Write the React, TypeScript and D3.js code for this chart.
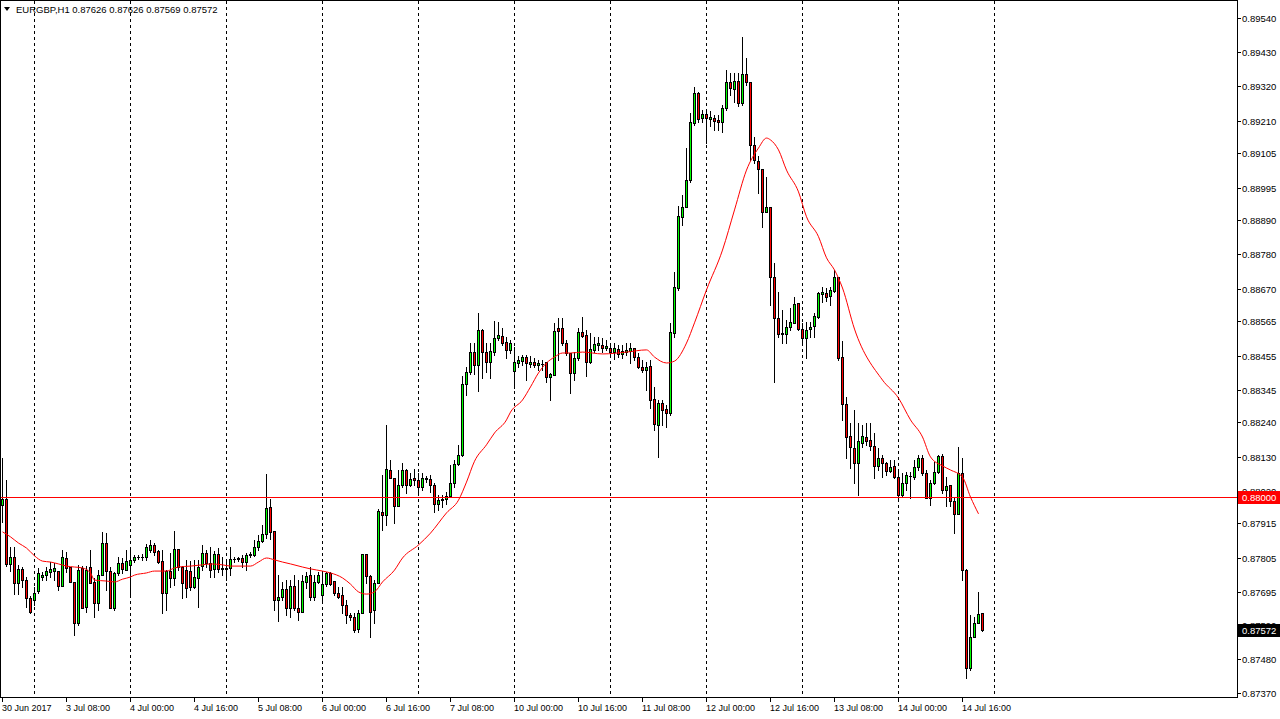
import React from 'react';
import * as d3 from 'd3';

// ---------- DATA (prices in 1e-5 points) ----------
const SYMBOL = 'EURGBP,H1';
const opens = [
87974,87994,87785,87807,87724,87769,87733,87675,87669,87698,87743,87749,87759,87762,87762,87714,87804,87775,87727,87595,
87772,87646,87775,87727,87659,87749,87852,87762,87643,87756,87788,87765,87782,87798,87807,87807,87807,87830,87846,87826,
87794,87691,87762,87740,87833,87775,87765,87762,87711,87740,87778,87820,87788,87769,87817,87772,87769,87772,87801,87801,
87804,87791,87814,87814,87839,87858,87881,87968,87891,87669,87678,87704,87643,87714,87643,87630,87727,87749,87678,87727,
87685,87720,87756,87730,87691,87685,87653,87621,87614,87576,87627,87817,87746,87637,87724,87952,87942,88087,88061,87971,
88039,88087,88039,88061,88055,88032,88061,88058,88039,87978,87990,87994,88003,88045,88106,88135,88363,88402,88466,88424,
88537,88466,88434,88466,88511,88518,88498,88473,88405,88431,88437,88450,88428,88434,88424,88428,88434,88386,88392,88544,
88544,88495,88463,88399,88447,88530,88521,88434,88473,88489,88489,88479,88479,88466,88476,88460,88466,88469,88479,88450,
88418,88408,88421,88315,88232,88302,88283,88270,88527,88672,88900,88932,89019,89203,89299,89219,89231,89215,89219,89212,
89206,89251,89334,89312,89337,89267,89360,89334,89132,89080,89055,88916,88932,88707,88576,88527,88524,88547,88560,88624,
88540,88511,88540,88550,88579,88653,88656,88646,88662,88707,88450,88299,88196,88158,88109,88174,88193,88183,88164,88100,
88125,88109,88084,88100,88064,88007,88045,88068,88064,88096,88125,88077,87997,88045,88080,88132,88023,88039,87987,87946,
88077,87765,87450,87550,87595,87626];
const highs = [
88126,88055,87839,87839,87782,87775,87743,87682,87711,87772,87759,87775,87791,87788,87762,87830,87823,87775,87727,87782,
87778,87778,87830,87740,87765,87888,87884,87775,87759,87807,87804,87830,87830,87814,87814,87817,87849,87862,87852,87830,
87830,87765,87820,87891,87833,87778,87798,87794,87798,87798,87846,87830,87839,87826,87836,87807,87798,87839,87807,87807,
87814,87820,87823,87862,87878,87910,88074,87994,87891,87749,87727,87733,87733,87749,87733,87749,87759,87775,87749,87759,
87756,87759,87759,87730,87711,87711,87669,87627,87627,87637,87817,87817,87749,87733,87962,88071,88231,88119,88061,88087,
88109,88090,88077,88090,88077,88077,88068,88071,88045,88007,88007,88016,88103,88119,88167,88389,88418,88495,88495,88592,
88540,88495,88495,88566,88563,88543,88514,88505,88482,88453,88457,88457,88453,88447,88441,88441,88434,88399,88560,88576,
88576,88505,88463,88466,88543,88579,88537,88527,88514,88514,88511,88505,88495,88495,88489,88489,88495,88495,88479,88463,
88441,88434,88441,88354,88312,88312,88296,88560,88724,88936,88971,89122,89235,89318,89302,89244,89244,89241,89228,89228,
89260,89373,89363,89363,89363,89479,89411,89334,89157,89096,89055,89029,88932,88752,88659,88601,88569,88608,88643,88624,
88560,88563,88563,88592,88659,88675,88672,88675,88730,88707,88502,88322,88238,88280,88238,88232,88238,88238,88206,88158,
88135,88112,88119,88119,88087,88077,88080,88080,88119,88135,88135,88087,88055,88112,88135,88138,88064,88039,88000,88161,
88126,87769,87621,87614,87695,87626];
const lows = [
87920,87778,87762,87688,87688,87711,87646,87627,87653,87691,87733,87733,87743,87733,87701,87714,87759,87727,87556,87589,
87643,87630,87724,87614,87637,87749,87701,87643,87637,87749,87756,87765,87678,87791,87801,87798,87798,87823,87814,87788,
87627,87637,87711,87717,87765,87675,87678,87701,87707,87646,87765,87775,87743,87743,87759,87749,87733,87749,87791,87794,
87775,87765,87807,87811,87830,87855,87868,87865,87637,87601,87669,87621,87614,87637,87605,87630,87707,87669,87669,87724,
87659,87714,87717,87685,87675,87627,87595,87605,87566,87566,87627,87724,87550,87595,87724,87894,87910,88061,87917,87971,
88032,88013,88036,88039,88013,88023,88048,88016,87952,87958,87968,87978,88000,88032,88103,88132,88328,88395,88395,88341,
88383,88402,88383,88457,88505,88489,88447,88463,88351,88418,88424,88376,88418,88418,88408,88408,88370,88312,88392,88441,
88489,88457,88335,88376,88441,88514,88389,88431,88466,88473,88466,88473,88457,88444,88450,88447,88457,88431,88441,88415,
88402,88344,88286,88216,88128,88232,88225,88264,88514,88666,88875,88932,89013,89196,89206,89206,89138,89193,89180,89180,
89174,89244,89292,89270,89257,89260,89325,89084,89074,88977,88868,88916,88617,88370,88514,88495,88495,88537,88560,88537,
88495,88447,88514,88514,88576,88627,88630,88617,88659,88441,88248,88126,88094,88045,88007,88161,88167,88151,88061,88087,
88064,88071,88080,88061,87997,88000,88023,87997,88058,88087,88071,87997,87974,88042,88077,88013,87971,87971,87884,87946,
87733,87418,87444,87550,87595,87569];
const closes = [
87994,87785,87807,87724,87769,87733,87675,87630,87691,87756,87749,87762,87769,87772,87714,87807,87772,87727,87595,87765,
87643,87765,87724,87659,87749,87852,87762,87643,87756,87788,87769,87794,87798,87807,87807,87807,87839,87846,87823,87791,
87691,87762,87740,87833,87775,87724,87707,87711,87743,87775,87820,87788,87765,87817,87769,87769,87772,87801,87801,87804,
87791,87814,87817,87839,87858,87881,87965,87888,87669,87678,87704,87643,87714,87643,87630,87730,87746,87678,87727,87749,
87720,87756,87720,87691,87678,87653,87621,87614,87572,87627,87817,87746,87630,87724,87955,87942,88090,88061,87971,88039,
88087,88039,88058,88055,88032,88061,88058,88039,87978,87990,87994,88003,88045,88106,88135,88363,88402,88466,88424,88537,
88466,88434,88469,88511,88521,88495,88473,88495,88434,88441,88450,88431,88434,88424,88431,88428,88386,88395,88534,88534,
88495,88463,88399,88447,88530,88518,88434,88476,88492,88495,88479,88485,88466,88479,88460,88469,88473,88479,88450,88418,
88408,88418,88312,88235,88302,88280,88270,88531,88675,88903,88932,89019,89206,89299,89215,89231,89219,89222,89209,89206,
89251,89334,89315,89337,89267,89360,89334,89132,89084,89055,88916,88932,88707,88576,88524,88524,88547,88563,88621,88540,
88511,88537,88547,88582,88656,88659,88643,88666,88707,88447,88299,88193,88161,88109,88180,88196,88180,88164,88100,88125,
88109,88084,88096,88064,88007,88045,88071,88068,88096,88125,88077,87997,88045,88080,88132,88023,88035,87987,87946,88077,
87765,87450,87550,87595,87624,87572];

// Moving average: bar index -> value
const maIndex = [0,2,4,6,8,10,12,14,16,18,20,22,23,26,28,30,32,33,36,38,41,43,44,47,50,52,55,57,60,62,64,66,68,70,72,75,77,80,82,85,87,89,91,93,95,98,100,104,107,111,114,116,118,121,123,126,127,130,132,134,136,138,140,142,145,150,156,161,163,166,168,171,173,176,180,183,186,189,191,192,194,196,199,201,204,206,208,210,213,220,224,227,230,232,235,237,240,242,244];
const maValue = [87888,87872,87852,87836,87811,87794,87791,87785,87778,87775,87772,87756,87733,87730,87727,87736,87743,87749,87756,87762,87762,87772,87775,87778,87782,87785,87782,87778,87778,87778,87791,87804,87798,87791,87785,87775,87769,87762,87756,87740,87720,87695,87688,87695,87727,87765,87804,87846,87884,87949,87990,88048,88115,88168,88206,88248,88273,88312,88354,88399,88431,88450,88463,88463,88466,88460,88466,88473,88450,88431,88437,88495,88560,88666,88794,88923,89051,89122,89154,89148,89116,89051,88981,88901,88837,88769,88730,88672,88540,88376,88318,88248,88193,88129,88100,88087,88064,88000,87946];

const priceTicks = [89540,89430,89320,89210,89105,88995,88890,88780,88670,88565,88455,88345,88240,88130,88020,87915,87805,87695,87590,87480,87370];
const timeLabelIndex = [0,16,32,48,64,80,96,112,128,144,160,176,192,208,224,240];
const timeLabels = ['30 Jun 2017','3 Jul 08:00','4 Jul 00:00','4 Jul 16:00','5 Jul 08:00','6 Jul 00:00','6 Jul 16:00','7 Jul 08:00','10 Jul 00:00','10 Jul 16:00','11 Jul 08:00','12 Jul 00:00','12 Jul 16:00','13 Jul 08:00','14 Jul 00:00','14 Jul 16:00'];
const dayStartIndex = [8,32,56,80,104,128,152,176,200,224,248];
const levelLine = 88000;

const PT = 1e5;
const fmt = (v: number) => (v / PT).toFixed(5);

export default function App() {
  const n = closes.length;
  const plotRight = 1237;
  const plotBottom = 697;
  const x = d3.scaleLinear().domain([0, n - 1]).range([2, 2 + 4 * (n - 1)]);
  const y = d3.scaleLinear().domain([87370, 89540]).range([693, 18]);
  const ry = (v: number) => Math.round(y(v));
  const font = "'Liberation Sans', Arial, sans-serif";

  const maLine = d3.line<number>()
    .x((_, i) => x(maIndex[i]) + 0.5)
    .y((v) => y(v))
    .curve(d3.curveMonotoneX)(maValue) || '';

  const last = closes[n - 1];
  const lvY = ry(levelLine);
  const lastY = ry(last);

  return (
    <div style={{ position: 'absolute', left: 0, top: 0 }}>
      <svg width={1280} height={719} style={{ display: 'block', background: '#fff' }}>
        <rect x={0} y={0} width={1280} height={719} fill="#fff" />
        {/* grid */}
        {dayStartIndex.map((d) => (
          <line key={'g' + d} x1={x(d) + 0.5} x2={x(d) + 0.5} y1={1} y2={plotBottom}
            stroke="#000" strokeWidth={1} strokeDasharray="3,3" shapeRendering="crispEdges" />
        ))}
        {/* candles */}
        <g shapeRendering="crispEdges">
          {closes.map((c, i) => {
            const o = opens[i];
            const cx = Math.round(x(i));
            const yh = ry(highs[i]);
            const yl = ry(lows[i]);
            const top = ry(Math.max(o, c));
            const bot = ry(Math.min(o, c));
            const bull = c >= o;
            return (
              <g key={i}>
                <rect x={cx} y={yh} width={1} height={yl - yh + 1} fill="#000" />
                {bot - top < 2 ? (
                  <rect x={cx - 1} y={top} width={3} height={bot - top + 1} fill="#000" />
                ) : (
                  <rect x={cx - 0.5} y={top + 0.5} width={2} height={bot - top}
                    fill={bull ? '#00ff00' : '#ff0000'} stroke="#000" strokeWidth={1} />
                )}
              </g>
            );
          })}
        </g>
        {/* level line */}
        <rect x={0} y={lvY} width={plotRight} height={1} fill="#ff0000" shapeRendering="crispEdges" />
        {/* moving average */}
        <path d={maLine} fill="none" stroke="#ff0000" strokeWidth={1} />
        {/* frame */}
        <g shapeRendering="crispEdges" stroke="#000" strokeWidth={1}>
          <line x1={0.5} x2={0.5} y1={0} y2={plotBottom + 1} />
          <line x1={plotRight + 0.5} x2={plotRight + 0.5} y1={0} y2={plotBottom + 1} />
          <line x1={0} x2={plotRight + 1} y1={0.5} y2={0.5} />
          <line x1={0} x2={plotRight + 1} y1={plotBottom + 0.5} y2={plotBottom + 0.5} />
        </g>
        {/* price axis */}
        <g fontFamily={font} fontSize={9.5} fill="#000">
          {priceTicks.map((p) => {
            const yy = ry(p);
            return (
              <g key={'p' + p}>
                <line x1={plotRight + 1} x2={plotRight + 4} y1={yy + 0.5} y2={yy + 0.5} stroke="#000" shapeRendering="crispEdges" />
                <text x={1242} y={yy + 3.5}>{fmt(p)}</text>
              </g>
            );
          })}
        </g>
        {/* time axis */}
        <g fontFamily={font} fontSize={9} fill="#000">
          {timeLabelIndex.map((t, k) => {
            const xx = Math.round(x(t));
            return (
              <g key={'t' + t}>
                <line x1={xx + 0.5} x2={xx + 0.5} y1={plotBottom + 1} y2={plotBottom + 5} stroke="#000" shapeRendering="crispEdges" />
                <text x={xx} y={711}>{timeLabels[k]}</text>
              </g>
            );
          })}
        </g>
        {/* level label */}
        <rect x={plotRight + 1} y={lvY - 6} width={42} height={13} fill="#ff0000" shapeRendering="crispEdges" />
        <text x={1242} y={lvY + 3.5} fontFamily={font} fontSize={9.5} fill="#fff">{fmt(levelLine)}</text>
        {/* last price label */}
        <rect x={plotRight + 1} y={lastY - 6} width={42} height={13} fill="#000" shapeRendering="crispEdges" />
        <text x={1242} y={lastY + 3.5} fontFamily={font} fontSize={9.5} fill="#fff">{fmt(last)}</text>
        {/* title */}
        <path d="M4,7 L10,7 L7,11 Z" fill="#000" />
        <text x={16} y={13} fontFamily={font} fontSize={9.5} fill="#000">
          {`${SYMBOL}  ${fmt(opens[n - 1])} ${fmt(highs[n - 1])} ${fmt(lows[n - 1])} ${fmt(last)}`}
        </text>
      </svg>
    </div>
  );
}
